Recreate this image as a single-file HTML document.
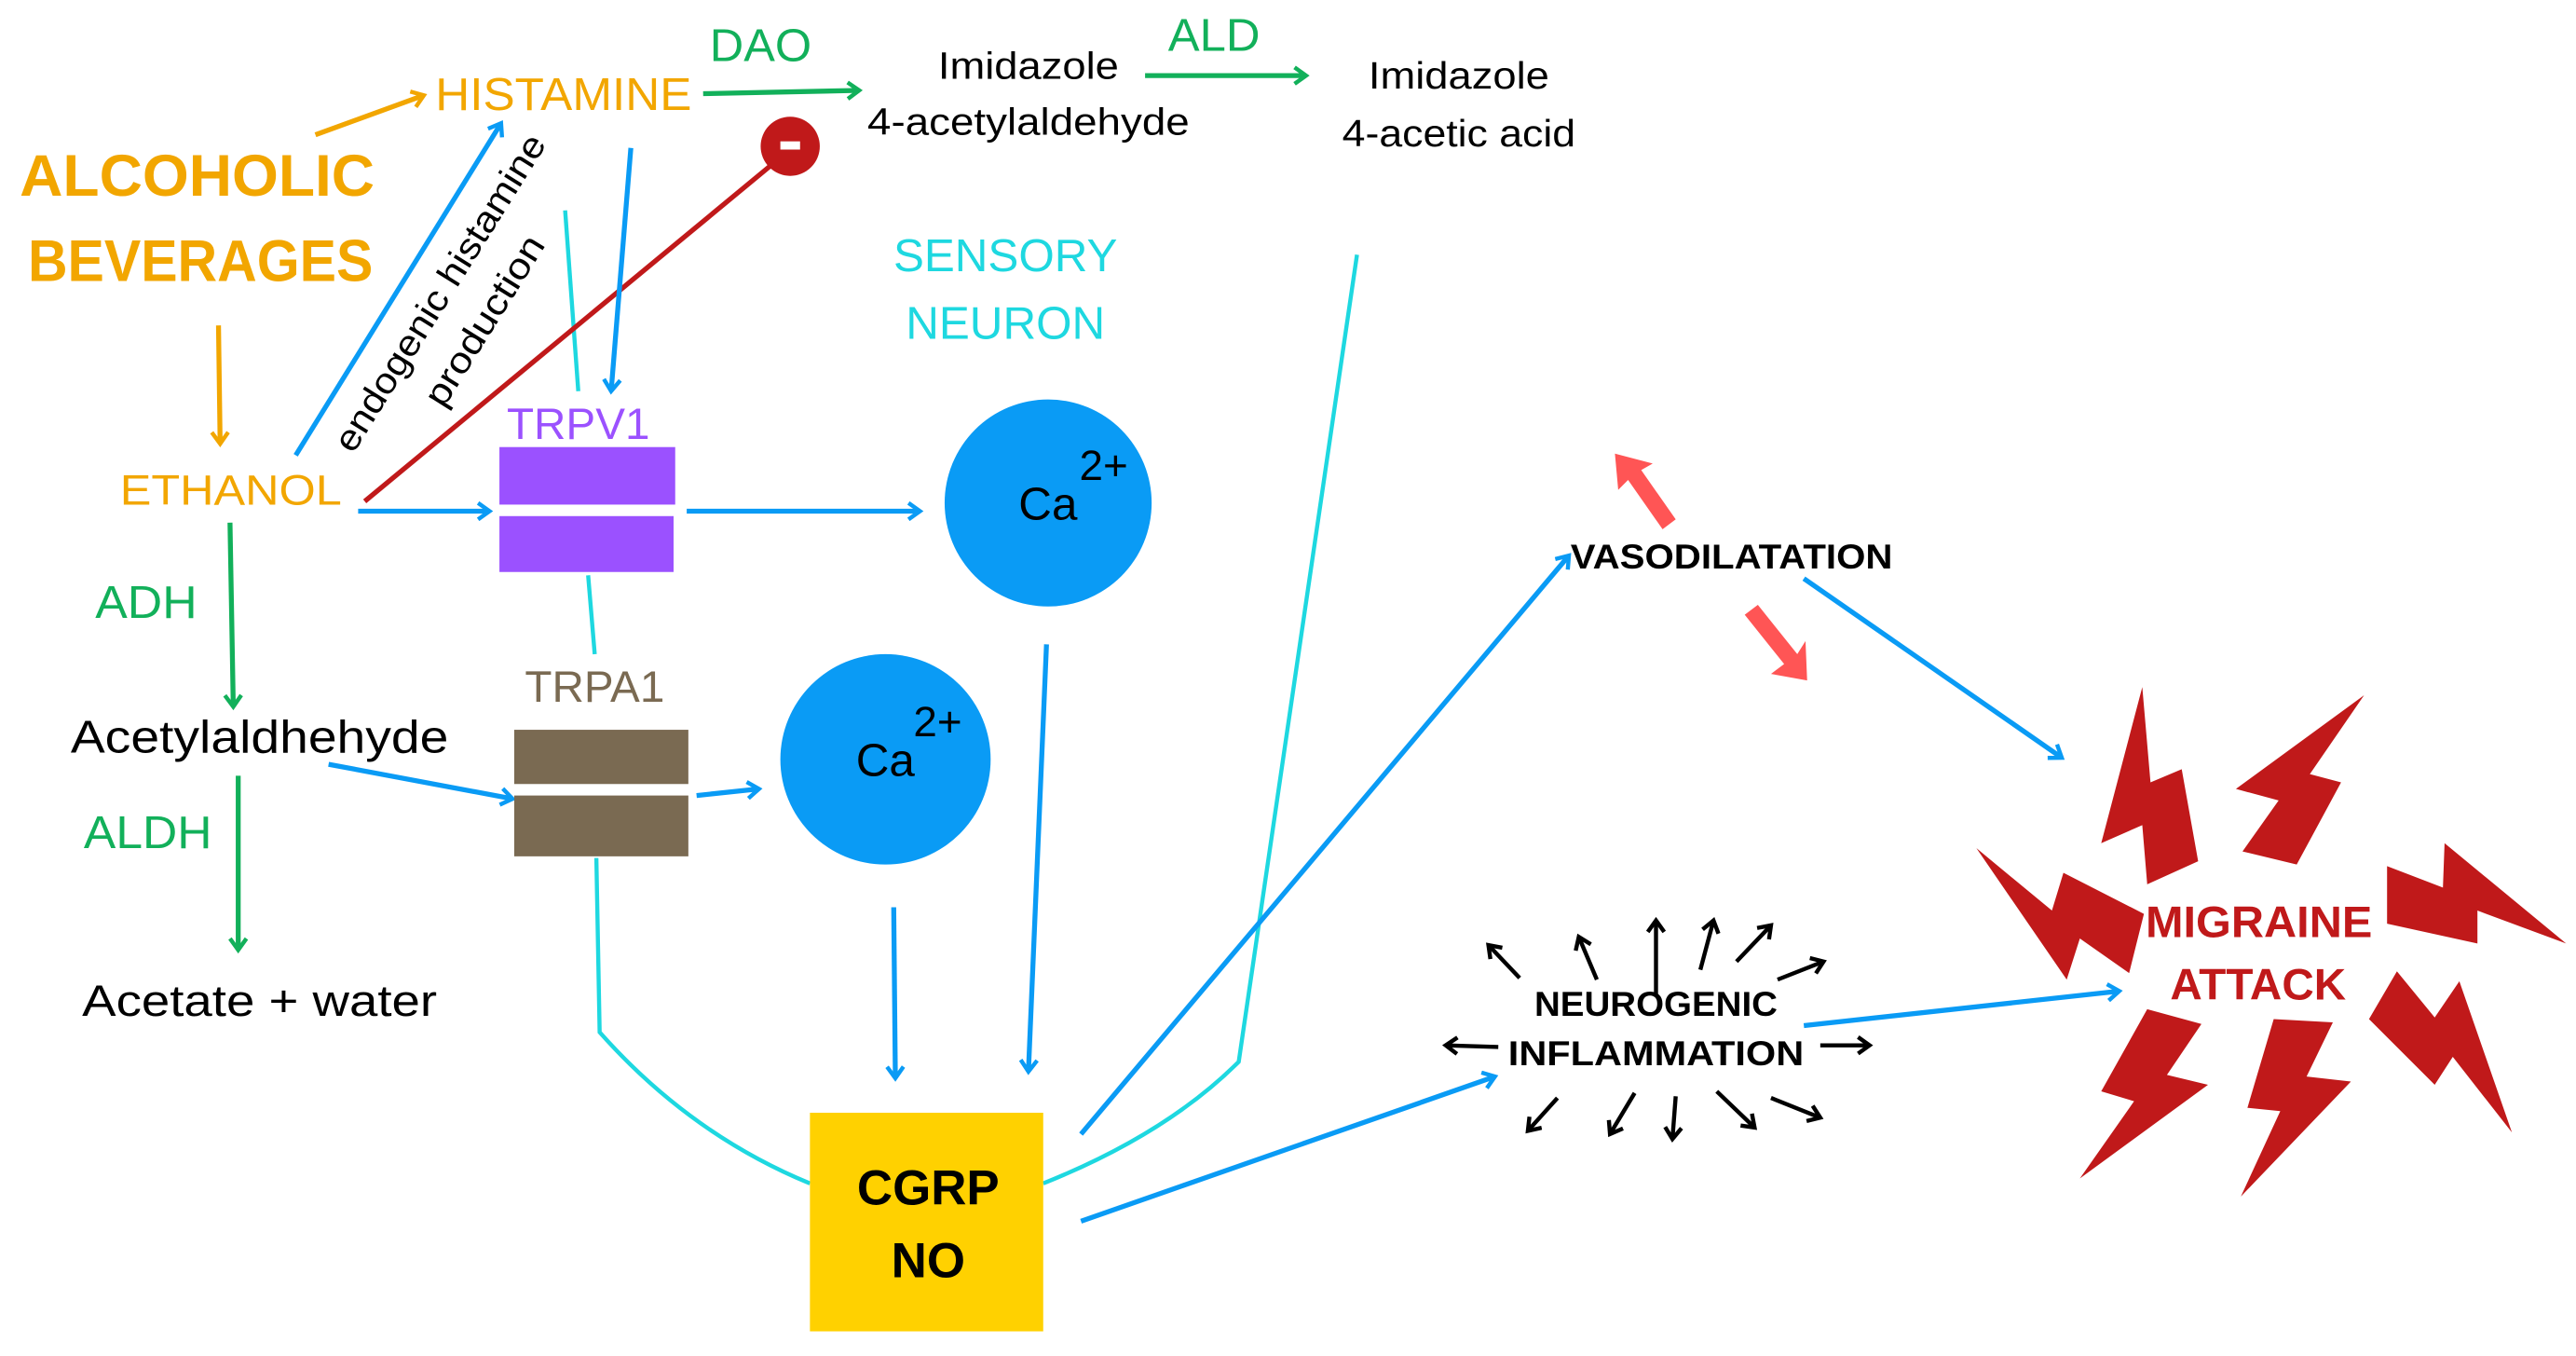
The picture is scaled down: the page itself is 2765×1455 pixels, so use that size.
<!DOCTYPE html>
<html><head><meta charset="utf-8"><style>html,body{margin:0;padding:0;background:#fff;overflow:hidden}svg{display:block}text{font-family:"Liberation Sans",sans-serif}</style></head><body>
<svg width="2765" height="1455" viewBox="0 0 1568 825" preserveAspectRatio="none" xmlns="http://www.w3.org/2000/svg">
<defs>
<marker id="mb" markerWidth="12" markerHeight="12" refX="9" refY="6" orient="auto" markerUnits="userSpaceOnUse"><path d="M2,1 L9,6 L2,11" fill="none" stroke="#0a9bf5" stroke-width="2.5"/></marker>
<marker id="mg" markerWidth="12" markerHeight="12" refX="9" refY="6" orient="auto" markerUnits="userSpaceOnUse"><path d="M2,1 L9,6 L2,11" fill="none" stroke="#12b05a" stroke-width="2.5"/></marker>
<marker id="mo" markerWidth="12" markerHeight="12" refX="9" refY="6" orient="auto" markerUnits="userSpaceOnUse"><path d="M2,1 L9,6 L2,11" fill="none" stroke="#f2a600" stroke-width="2.5"/></marker>
<marker id="mk" markerWidth="12" markerHeight="12" refX="9" refY="6" orient="auto" markerUnits="userSpaceOnUse"><path d="M2,1 L9,6 L2,11" fill="none" stroke="#000" stroke-width="2.5"/></marker>
</defs>
<g fill="none" stroke-width="3">
<g stroke="#1ed8e0" stroke-width="2.5">
<line x1="344" y1="128" x2="352" y2="238"/>
<line x1="358" y1="350" x2="362" y2="398"/>
<path d="M363,522 L365,628 Q420,690 493,720"/>
<path d="M635,720 Q710,690 754,646 L826,155"/>
</g>
<g stroke="#f2a600"><line x1="192" y1="82" x2="258" y2="58" marker-end="url(#mo)"/><line x1="133" y1="198" x2="134" y2="270" marker-end="url(#mo)"/></g>
<g stroke="#12b05a"><line x1="428" y1="57" x2="523" y2="55" marker-end="url(#mg)"/><line x1="697" y1="46" x2="795" y2="46" marker-end="url(#mg)"/><line x1="140" y1="318" x2="142" y2="430" marker-end="url(#mg)"/><line x1="145" y1="472" x2="145" y2="578" marker-end="url(#mg)"/></g>
<line x1="222" y1="305" x2="470" y2="100" stroke="#c0191a"/>
<g stroke="#0a9bf5">
<line x1="180" y1="277" x2="305" y2="75" marker-end="url(#mb)"/>
<line x1="384" y1="90" x2="372" y2="238" marker-end="url(#mb)"/>
<line x1="218" y1="311" x2="298" y2="311" marker-end="url(#mb)"/>
<line x1="418" y1="311" x2="560" y2="311" marker-end="url(#mb)"/>
<line x1="200" y1="465" x2="312" y2="486" marker-end="url(#mb)"/>
<line x1="424" y1="484" x2="462" y2="480" marker-end="url(#mb)"/>
<line x1="544" y1="552" x2="545" y2="656" marker-end="url(#mb)"/>
<line x1="637" y1="392" x2="626" y2="652" marker-end="url(#mb)"/>
<line x1="658" y1="690" x2="955" y2="338" marker-end="url(#mb)"/>
<line x1="658" y1="743" x2="910" y2="655" marker-end="url(#mb)"/>
<line x1="1098" y1="352" x2="1255" y2="461" marker-end="url(#mb)"/>
<line x1="1098" y1="624" x2="1290" y2="603" marker-end="url(#mb)"/>
</g>
<g stroke="#000" stroke-width="2.5">
<line x1="925" y1="595" x2="906" y2="575" marker-end="url(#mk)"/>
<line x1="972" y1="596" x2="961" y2="570" marker-end="url(#mk)"/>
<line x1="1008" y1="605" x2="1008" y2="560" marker-end="url(#mk)"/>
<line x1="1035" y1="590" x2="1043" y2="560" marker-end="url(#mk)"/>
<line x1="1057" y1="585" x2="1078" y2="563" marker-end="url(#mk)"/>
<line x1="1082" y1="596" x2="1110" y2="585" marker-end="url(#mk)"/>
<line x1="1108" y1="636" x2="1138" y2="636" marker-end="url(#mk)"/>
<line x1="912" y1="637" x2="880" y2="636" marker-end="url(#mk)"/>
<line x1="948" y1="668" x2="930" y2="688" marker-end="url(#mk)"/>
<line x1="995" y1="665" x2="980" y2="690" marker-end="url(#mk)"/>
<line x1="1020" y1="667" x2="1018" y2="693" marker-end="url(#mk)"/>
<line x1="1045" y1="664" x2="1068" y2="686" marker-end="url(#mk)"/>
<line x1="1078" y1="668" x2="1108" y2="680" marker-end="url(#mk)"/>
</g>
</g>
<circle cx="481" cy="89" r="18" fill="#c0191a"/>
<rect x="475" y="86" width="12" height="5" fill="#fff"/>
<rect x="304" y="272" width="107" height="35" fill="#9b51ff"/>
<rect x="304" y="314" width="106" height="34" fill="#9b51ff"/>
<rect x="313" y="444" width="106" height="33" fill="#7a6a52"/>
<rect x="313" y="484" width="106" height="37" fill="#7a6a52"/>
<circle cx="638" cy="306" r="63" fill="#0a9bf5"/>
<circle cx="539" cy="462" r="64" fill="#0a9bf5"/>
<text x="620" y="316" font-size="28">Ca</text><text x="657" y="292" font-size="26">2+</text>
<text x="521" y="472" font-size="28">Ca</text><text x="556" y="448" font-size="26">2+</text>
<rect x="493" y="677" width="142" height="133" fill="#ffd100"/>
<text x="565" y="733" font-size="30" font-weight="bold" text-anchor="middle">CGRP</text>
<text x="565" y="777" font-size="30" font-weight="bold" text-anchor="middle">NO</text>
<g fill="#ff5555">
<polygon points="983,276 1006,282 999,286 1020,316 1012,322 991,292 985,298"/>
<polygon points="1100,414 1078,410 1086,404 1062,374 1070,368 1094,398 1099,390"/>
</g>
<g fill="#c0191a">
<polygon points="1304,418 1279,513 1304,502 1307,538 1338,524 1328,468 1309,476"/>
<polygon points="1439,423 1361,480 1387,487 1365,518 1398,526 1425,476 1406,471"/>
<polygon points="1203,516 1258,596 1266,571 1296,592 1305,556 1256,531 1249,554"/>
<polygon points="1453,527 1453,562 1508,574 1508,554 1562,574 1488,513 1487,540"/>
<polygon points="1307,614 1279,664 1299,670 1266,717 1344,660 1319,654 1340,623"/>
<polygon points="1384,620 1368,674 1388,676 1364,728 1431,658 1404,655 1420,622"/>
<polygon points="1442,620 1482,660 1493,643 1529,689 1497,597 1482,619 1459,591"/>
</g>
<g font-size="28" fill="#f2a600">
<text x="265" y="67" textLength="156" lengthAdjust="spacingAndGlyphs">HISTAMINE</text>
<text x="73" y="307" textLength="135" font-size="26" lengthAdjust="spacingAndGlyphs">ETHANOL</text>
<text x="12" y="119" font-size="36" font-weight="bold" textLength="216" lengthAdjust="spacingAndGlyphs">ALCOHOLIC</text>
<text x="17" y="171" font-size="36" font-weight="bold" textLength="210" lengthAdjust="spacingAndGlyphs">BEVERAGES</text>
</g>
<g fill="#12b05a" font-size="28">
<text x="432" y="37" textLength="62" lengthAdjust="spacingAndGlyphs">DAO</text>
<text x="711" y="31" textLength="56" lengthAdjust="spacingAndGlyphs">ALD</text>
<text x="58" y="376" textLength="62" lengthAdjust="spacingAndGlyphs">ADH</text>
<text x="51" y="516" textLength="78" lengthAdjust="spacingAndGlyphs">ALDH</text>
</g>
<g font-size="23" fill="#000" text-anchor="middle">
<text x="626" y="48" textLength="110" lengthAdjust="spacingAndGlyphs">Imidazole</text>
<text x="626" y="82" textLength="196" lengthAdjust="spacingAndGlyphs">4-acetylaldehyde</text>
<text x="888" y="54" textLength="110" lengthAdjust="spacingAndGlyphs">Imidazole</text>
<text x="888" y="89" textLength="142" lengthAdjust="spacingAndGlyphs">4-acetic acid</text>
</g>
<text x="158" y="458" font-size="28" text-anchor="middle" textLength="230" lengthAdjust="spacingAndGlyphs">Acetylaldhehyde</text>
<text x="158" y="618" font-size="27" text-anchor="middle" textLength="216" lengthAdjust="spacingAndGlyphs">Acetate + water</text>
<g transform="translate(274,182) rotate(-58)" font-size="22" text-anchor="middle">
<text x="0" y="0" textLength="223" lengthAdjust="spacingAndGlyphs">endogenic histamine</text>
<text x="0" y="32" textLength="118" lengthAdjust="spacingAndGlyphs">production</text>
</g>
<g fill="#1ed8e0" font-size="28" text-anchor="middle"><text x="612" y="165">SENSORY</text><text x="612" y="206">NEURON</text></g>
<text x="352" y="267" font-size="27" fill="#9b51ff" text-anchor="middle">TRPV1</text>
<text x="362" y="427" font-size="27" fill="#7a6a52" text-anchor="middle">TRPA1</text>
<text x="1054" y="346" font-size="21" font-weight="bold" text-anchor="middle" textLength="196" lengthAdjust="spacingAndGlyphs">VASODILATATION</text>
<text x="1008" y="618" font-size="21" font-weight="bold" text-anchor="middle" textLength="148" lengthAdjust="spacingAndGlyphs">NEUROGENIC</text>
<text x="1008" y="648" font-size="21" font-weight="bold" text-anchor="middle" textLength="180" lengthAdjust="spacingAndGlyphs">INFLAMMATION</text>
<g fill="#c0191a" font-size="27" font-weight="bold"><text x="1306" y="570" textLength="138" lengthAdjust="spacingAndGlyphs">MIGRAINE</text><text x="1321" y="608" textLength="107" lengthAdjust="spacingAndGlyphs">ATTACK</text></g>
</svg>
</body></html>
